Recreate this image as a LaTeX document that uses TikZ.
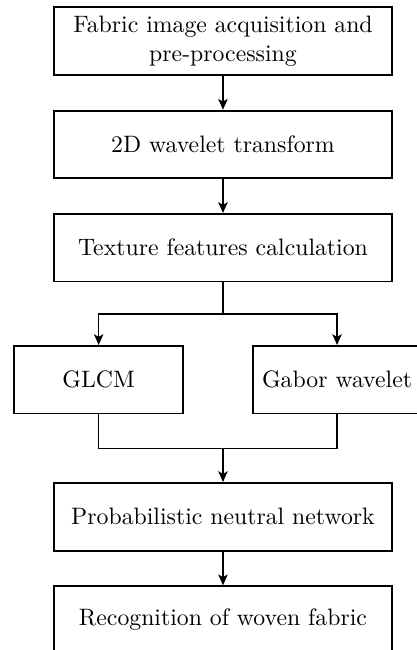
\documentclass[tikz,border=0pt]{standalone}
\usetikzlibrary{positioning, arrows.meta}

\tikzset{
  block/.style = {draw, thick, minimum width = 5cm, minimum height = 1cm, align = center},
  branch/.style = {draw, thick, minimum width = 2.5cm, minimum height = 1cm},
  link/.style = {semithick, -{Stealth[length = 1.6mm, width = 1.4mm, inset = 0.4mm]}}
}

\begin{document}
\begin{tikzpicture}[node distance = 0.5cm]

      \useasboundingbox (0, 0) rectangle (6.17, -9.62);
      \clip (0, 0) rectangle (6.17, -9.62);

      \node[block] (acq) at (3.30, -0.61) {Fabric image acquisition and\\pre-processing};
      \node[block, below = of acq] (wav) {2D wavelet transform};
      \node[block, below = of wav] (tex) {Texture features calculation};
      \coordinate[below = 0.47cm of tex] (split);

      \node[branch] (glcm) at (1.46, -5.62) {GLCM};
      \node[branch, right = 1cm of glcm] (gabor) {Gabor wavelet};
      \coordinate[below = of glcm] (joinl);
      \coordinate (join) at (joinl -| tex);

      \node[block, below = of join] (pnn) {Probabilistic neutral network};
      \node[block, below = of pnn] (rec) {Recognition of woven fabric};

      \draw[link] (acq) -- (wav);
      \draw[link] (wav) -- (tex);
      \draw[semithick] (tex) -- (split);
      \draw[link] (split) -| (glcm);
      \draw[link] (split) -| (gabor);
      \draw[semithick] (glcm) -- (joinl) -| (gabor);
      \draw[link] (join) -- (pnn);
      \draw[link] (pnn) -- (rec);

    \end{tikzpicture}
\end{document}
